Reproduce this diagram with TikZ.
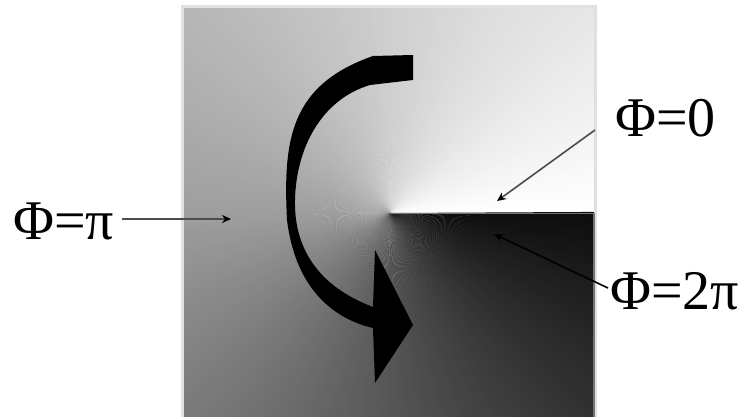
\documentclass[tikz,border=0pt]{standalone}
\usepackage{fontspec}
\setmainfont{Liberation Serif}
\usetikzlibrary{arrows.meta}
\begin{document}
\begin{tikzpicture}[x=1pt,y=-1pt,
  lbl/.style={anchor=base west,inner sep=0pt,font=\fontsize{56}{60}\selectfont},
  ptr/.style={draw=black!70,line width=1.6pt,-{Stealth[length=9pt,width=8pt,black]}}]
\useasboundingbox (0,0) rectangle (742,417);
\coordinate (C) at (390,213);
% phase-shaded square
\begin{scope}
\clip (181,6) rectangle (596,417);
\foreach \a in {0,...,359}{
  \pgfmathsetmacro{\k}{\a<=180 ? 0.2111*\a : 38+0.3167*(\a-180)}
  \fill[black!\k] (C) -- +(\a:700pt) -- +(\a+1.3:700pt) -- cycle;
}
\end{scope}
\draw[black!12,line width=3pt] (182,7) rectangle (595,418);
\draw[black!55,line width=1.5pt] (390,213.5) -- (594,213.5) -- (594,417);
% curved arrow
\fill[black] (413,55) -- (413,80) -- (370,85)
  .. controls (320,100) and (296,150) .. (295,200)
  .. controls (294,245) and (315,285) .. (373,307)
  -- (375,250) -- (413,325) -- (375,383) -- (373,328)
  .. controls (330,318) and (295,285) .. (287,220)
  .. controls (283,140) and (290,85) .. (373,56) -- cycle;
% labels
\node[lbl] (tpi) at (13,239) {Φ=π};
\node[lbl] (t0) at (615,137) {Φ=0};
\node[lbl] (t2pi) at (610,309) {Φ=2π};
\coordinate (ppi) at (231,219);
\coordinate (p0) at (497,201);
\coordinate (p2pi) at (494,234);
\draw[ptr] ([shift={(8,-20)}]tpi.base east) -- (ppi);
\draw[ptr] ([shift={(-20,-7)}]t0.base west) -- (p0);
\draw[ptr,draw=black] ([shift={(-2,-21)}]t2pi.base west) -- (p2pi);
\end{tikzpicture}
\end{document}
